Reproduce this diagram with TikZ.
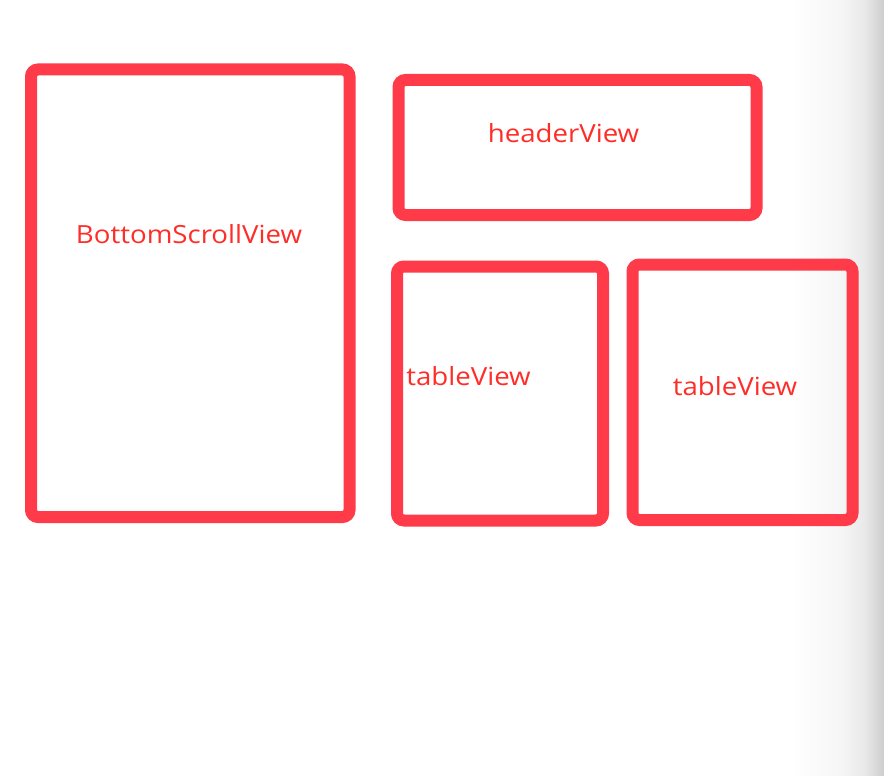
\documentclass[tikz,border=0pt]{standalone}
\usepackage{fontspec}
\usepackage{graphicx}
\setmainfont{Open Sans}
\definecolor{boxred}{RGB}{255,59,74}
\definecolor{txtred}{RGB}{255,45,40}
\definecolor{shadeA}{RGB}{246,246,246}
\definecolor{shadeB}{RGB}{232,232,232}
\definecolor{shadeC}{RGB}{205,205,205}
\newcommand{\widetxt}[1]{\scalebox{1.105}[1]{#1}}
\tikzset{
  viewbox/.style={draw=boxred, line width=12pt, rounded corners=7pt, inner sep=0pt, outer sep=0pt},
  viewlabel/.style={text=txtred, font=\fontsize{25}{29}\selectfont, anchor=base, inner sep=0pt}
}
\begin{document}
\begin{tikzpicture}[x=1pt,y=-1pt]
\useasboundingbox (0,0) rectangle (884,776);
\fill[white] (0,0) rectangle (884,776);
\shade[left color=white, right color=shadeA, draw=none] (790,0) rectangle (840,776);
\shade[left color=shadeA, right color=shadeB, draw=none] (839.5,0) rectangle (866,776);
\shade[left color=shadeB, right color=shadeC, draw=none] (865.5,0) rectangle (884,776);

\node[viewbox, minimum width=318.5pt, minimum height=447.5pt] (bsv) at (190.25,293.25) {};
\node[viewbox, minimum width=358pt, minimum height=135pt] (header) at (577.5,147.5) {};
\node[viewbox, minimum width=206pt, minimum height=254pt] (tv1) at (500,393.5) {};
\node[viewbox, minimum width=220pt, minimum height=255.5pt] (tv2) at (742.5,392.25) {};

\node[viewlabel] (bsvlabel) at (189,243) {\widetxt{BottomScrollView}};
\node[viewlabel] (headerlabel) at (563.5,142) {\widetxt{headerView}};
\node[viewlabel] (tv1label) at (468.5,385.7) {\widetxt{tableView}};
\node[viewlabel] (tv2label) at (735,395) {\widetxt{tableView}};
\end{tikzpicture}
\end{document}
